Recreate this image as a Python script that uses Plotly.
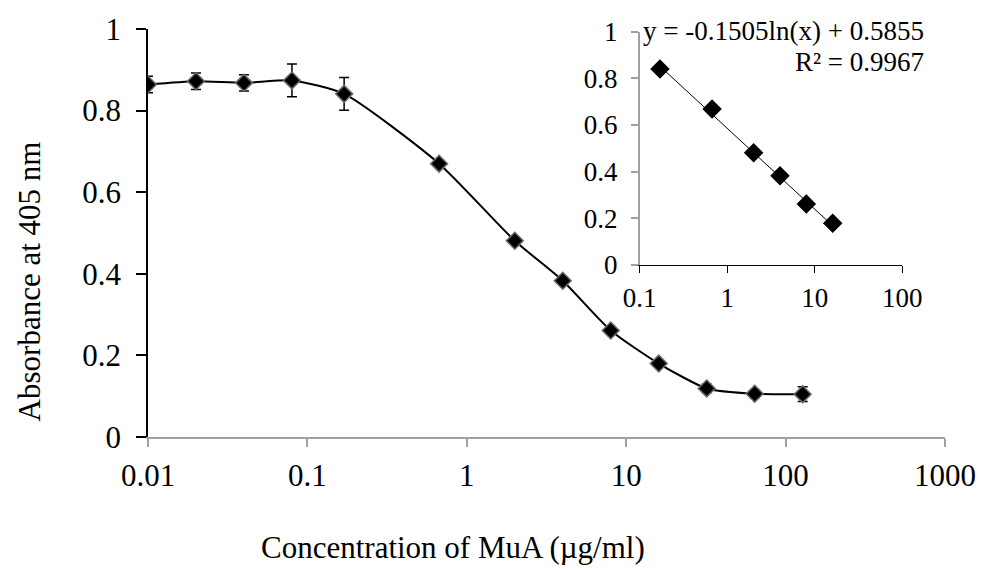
import plotly.graph_objects as go
import numpy as np

# Main curve data
conc = [0.01, 0.02, 0.04, 0.08, 0.17, 0.67, 2, 4, 8, 16, 32, 64, 128]
absorb = [0.864, 0.872, 0.868, 0.874, 0.841, 0.670, 0.481, 0.383, 0.261, 0.180, 0.119, 0.106, 0.105]
err = [0.02, 0.02, 0.02, 0.04, 0.04, 0.008, 0.008, 0.008, 0.008, 0.008, 0.01, 0.01, 0.018]

# Inset (linear range) data
ins_conc = [0.17, 0.67, 2, 4, 8, 16]
ins_abs = [0.840, 0.669, 0.481, 0.383, 0.261, 0.179]
fit_slope = -0.1505
fit_intercept = 0.5855

main_ticks = [0.01, 0.1, 1, 10, 100, 1000]
main_ticktext = ["0.01", "0.1", "1", "10", "100", "1000"]
ins_ticks = [0.1, 1, 10, 100]
ins_ticktext = ["0.1", "1", "10", "100"]
y_ticks = [0, 0.2, 0.4, 0.6, 0.8, 1]
y_ticktext = ["0", "0.2", "0.4", "0.6", "0.8", "1"]

FONT = "Liberation Serif, Times New Roman, serif"
GREY = "#a0a0a0"

fig = go.Figure()

fig.add_trace(go.Scatter(
    x=conc, y=absorb, mode="lines+markers",
    line=dict(color="black", width=2, shape="spline", smoothing=0.6),
    marker=dict(symbol="diamond", size=13, color="black",
                line=dict(color="#6a6a6a", width=1.5)),
    error_y=dict(type="data", array=err, visible=True, color="black",
                 thickness=1.5, width=5),
    xaxis="x", yaxis="y", showlegend=False,
))

# Trendline from the fit equation
fx = np.array([ins_conc[0], ins_conc[-1]])
fy = fit_slope * np.log(fx) + fit_intercept
fig.add_trace(go.Scatter(
    x=fx, y=fy, mode="lines", line=dict(color="black", width=1),
    xaxis="x2", yaxis="y2", showlegend=False,
))
fig.add_trace(go.Scatter(
    x=ins_conc, y=ins_abs, mode="markers",
    marker=dict(symbol="diamond", size=15, color="black",
                line=dict(color="black", width=0)),
    xaxis="x2", yaxis="y2", showlegend=False,
))

fig.update_layout(
    width=988, height=570,
    margin=dict(l=148, r=36, t=29, b=133),
    paper_bgcolor="white", plot_bgcolor="white",
    font=dict(family=FONT, color="black"),
    xaxis=dict(
        type="log", range=[-2, 3], domain=[0, 1],
        tickvals=main_ticks, ticktext=main_ticktext,
        showgrid=False, zeroline=False,
        showline=True, linecolor=GREY, linewidth=1.5,
        ticks="outside", ticklen=8, tickcolor=GREY, tickwidth=1.5,
        tickfont=dict(size=31, family=FONT), ticklabelstandoff=2,
    ),
    yaxis=dict(
        range=[0, 1], domain=[0, 1],
        tickvals=y_ticks, ticktext=y_ticktext,
        showgrid=False, zeroline=False,
        showline=True, linecolor="black", linewidth=1.5,
        ticks="outside", ticklen=10, tickcolor="black", tickwidth=1.5,
        tickfont=dict(size=31, family=FONT), ticklabelstandoff=9,
    ),
    xaxis2=dict(
        type="log", range=[-1, 2], domain=[0.617, 0.9465], anchor="y2",
        tickvals=ins_ticks, ticktext=ins_ticktext,
        showgrid=False, zeroline=False,
        showline=True, linecolor="black", linewidth=1.2,
        ticks="outside", ticklen=7, tickcolor="black", tickwidth=1.2,
        tickfont=dict(size=27, family=FONT), ticklabelstandoff=2,
    ),
    yaxis2=dict(
        range=[0, 1], domain=[0.4216, 0.9934], anchor="x2",
        tickvals=y_ticks, ticktext=y_ticktext,
        showgrid=False, zeroline=False,
        showline=True, linecolor=GREY, linewidth=1.5,
        ticks="outside", ticklen=7, tickcolor=GREY, tickwidth=1.5,
        tickfont=dict(size=27, family=FONT), ticklabelstandoff=8,
    ),
    annotations=[
        dict(text="Concentration of MuA (µg/ml)", xref="paper", yref="paper",
             x=0.383, y=-0.27, xanchor="center", yanchor="middle",
             showarrow=False, font=dict(size=31, family=FONT)),
        dict(text="Absorbance at 405 nm", xref="paper", yref="paper",
             x=-0.149, y=0.382, xanchor="center", yanchor="middle",
             textangle=-90, showarrow=False, font=dict(size=31, family=FONT)),
        dict(text="y = -0.1505ln(x) + 0.5855", xref="paper", yref="paper",
             x=0.976, y=0.995, xanchor="right", yanchor="middle",
             showarrow=False, font=dict(size=27, family=FONT)),
        dict(text="R² = 0.9967", xref="paper", yref="paper",
             x=0.976, y=0.919, xanchor="right", yanchor="middle",
             showarrow=False, font=dict(size=27, family=FONT)),
    ],
)

fig.write_html("out.html")
